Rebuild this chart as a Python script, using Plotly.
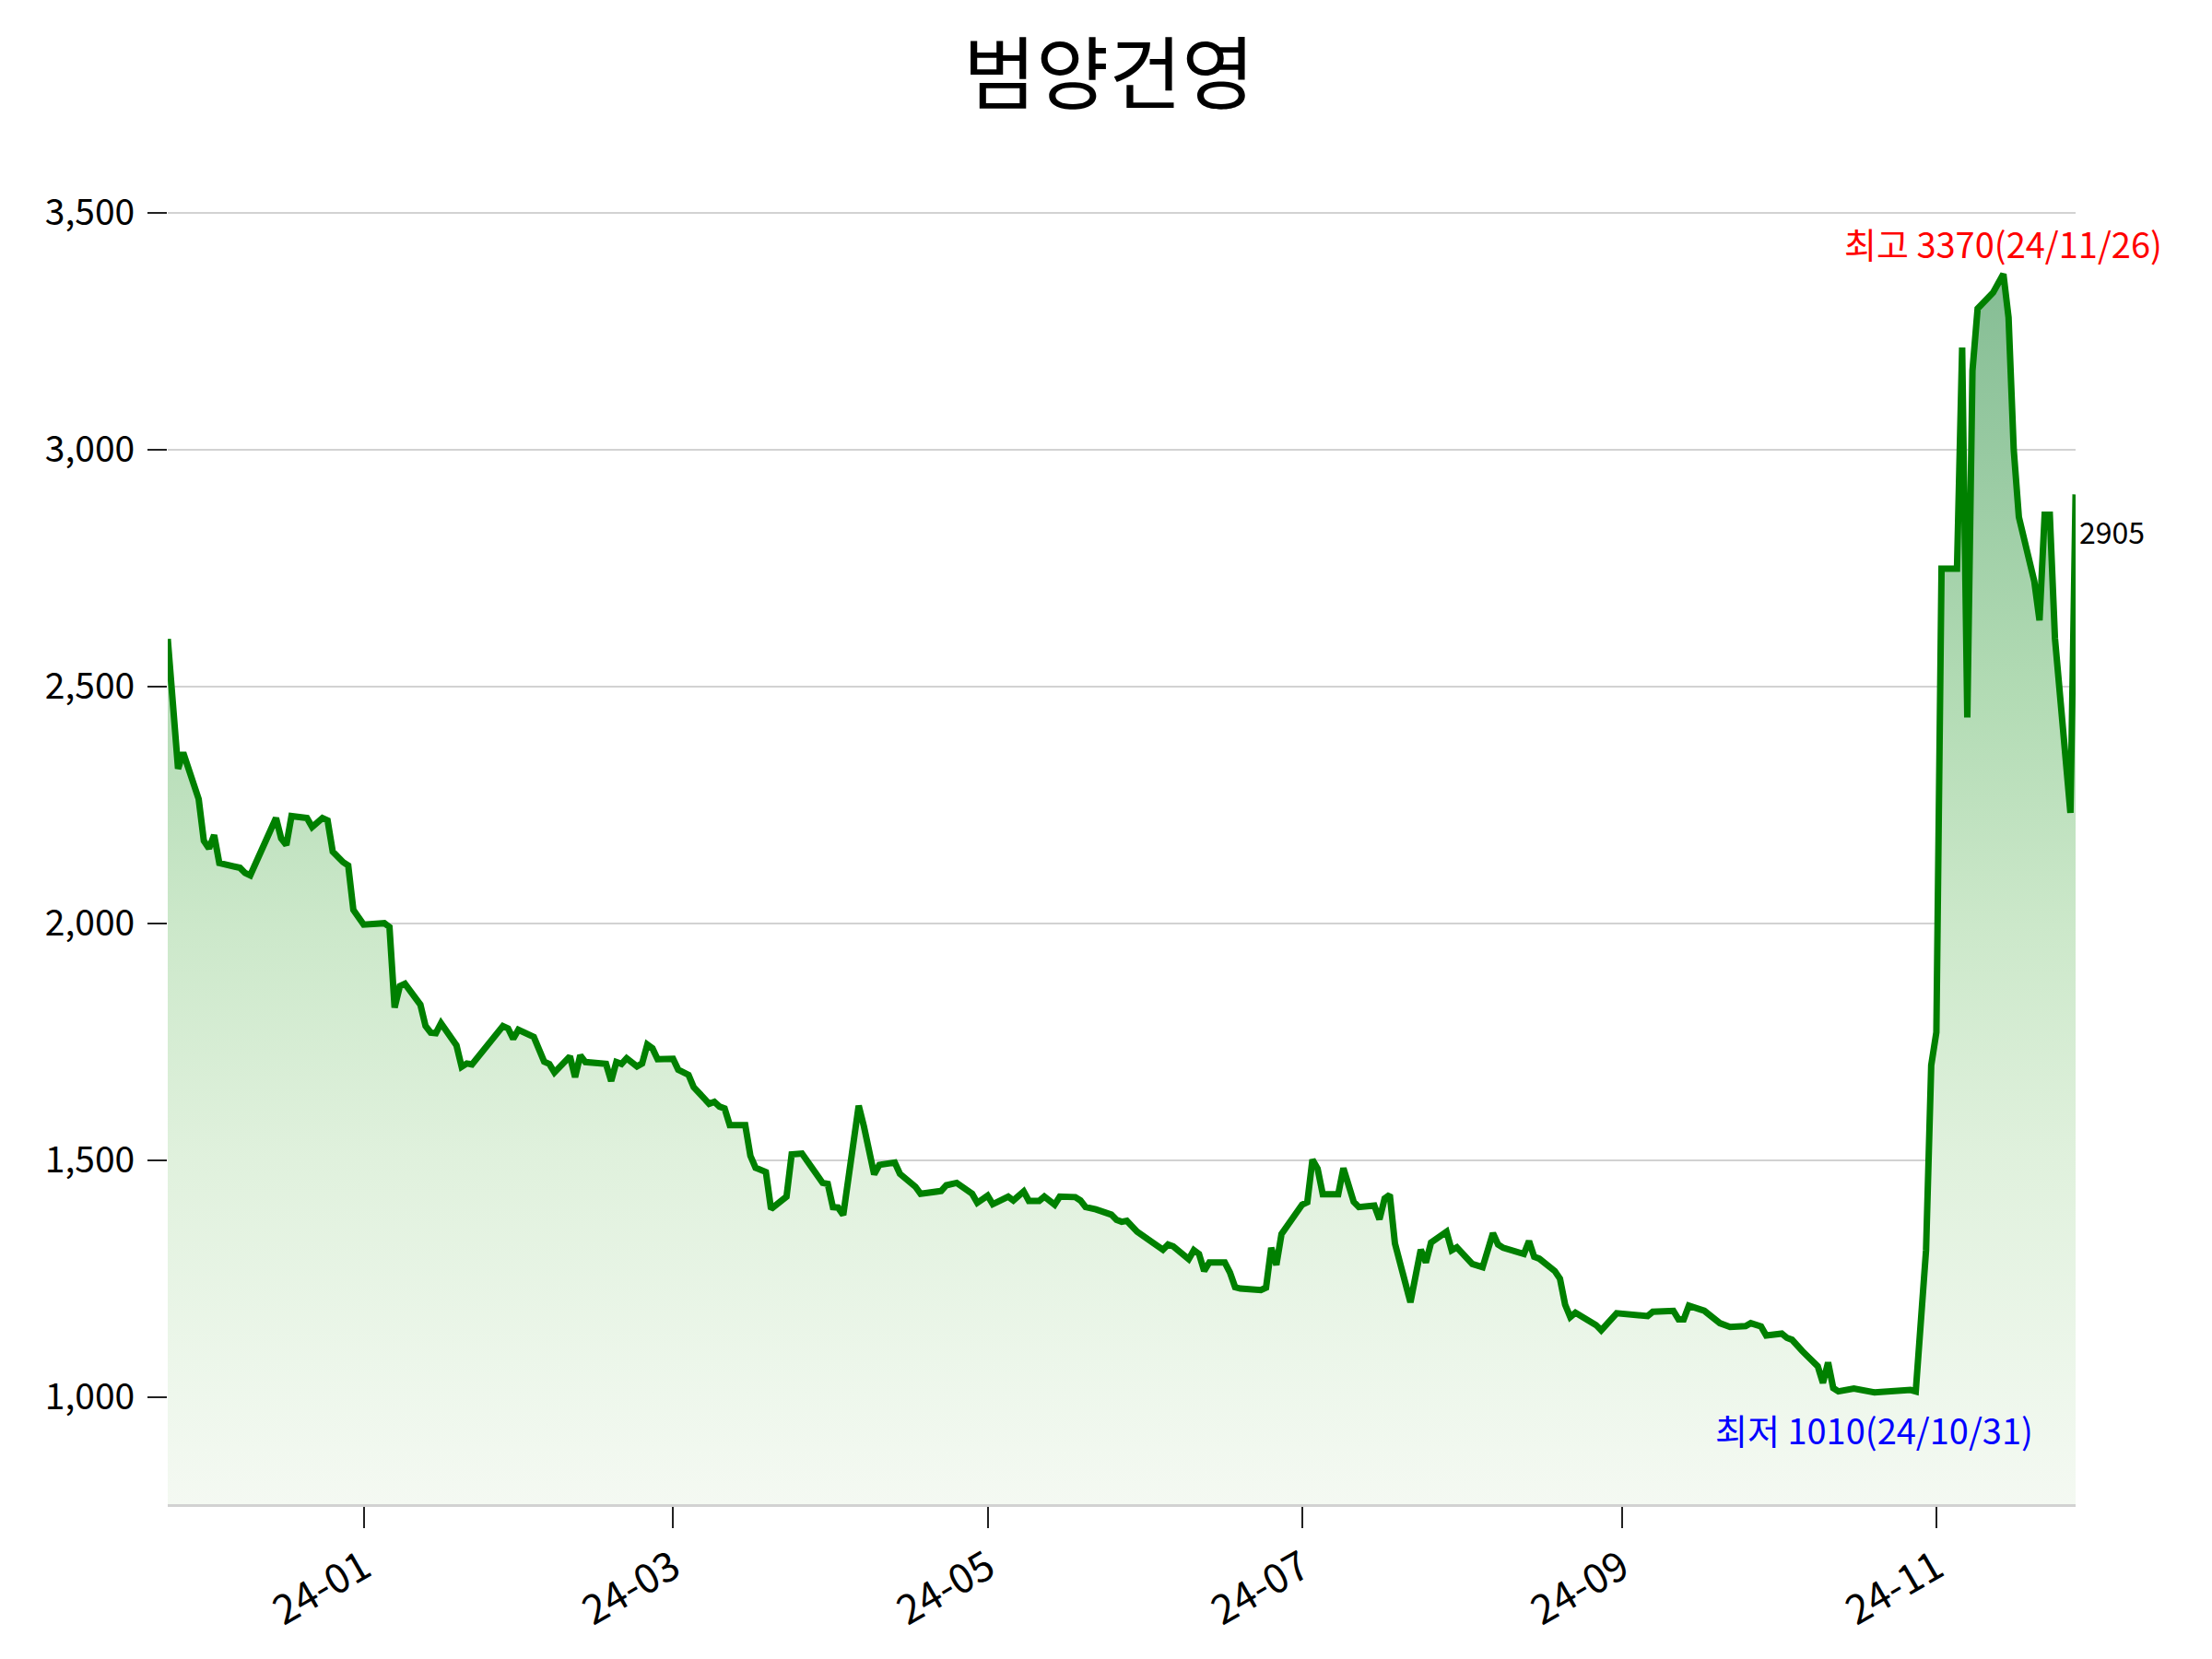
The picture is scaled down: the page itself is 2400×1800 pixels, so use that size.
import plotly.graph_objects as go

title = "범양건영"

dates = [
    "2023-11-24", "2023-11-26", "2023-11-27", "2023-11-30", "2023-12-01", "2023-12-02",
    "2023-12-03", "2023-12-04", "2023-12-08", "2023-12-09", "2023-12-10", "2023-12-15",
    "2023-12-16", "2023-12-17", "2023-12-18", "2023-12-21", "2023-12-22", "2023-12-24",
    "2023-12-25", "2023-12-26", "2023-12-28", "2023-12-29", "2023-12-30", "2024-01-01",
    "2024-01-05", "2024-01-06", "2024-01-07", "2024-01-08", "2024-01-09", "2024-01-12",
    "2024-01-13", "2024-01-14", "2024-01-15", "2024-01-16", "2024-01-19", "2024-01-20",
    "2024-01-21", "2024-01-22", "2024-01-28", "2024-01-29", "2024-01-30", "2024-01-31",
    "2024-02-03", "2024-02-05", "2024-02-06", "2024-02-07", "2024-02-10", "2024-02-11",
    "2024-02-12", "2024-02-13", "2024-02-17", "2024-02-18", "2024-02-19", "2024-02-20",
    "2024-02-21", "2024-02-23", "2024-02-24", "2024-02-25", "2024-02-26", "2024-02-27",
    "2024-03-01", "2024-03-02", "2024-03-04", "2024-03-05", "2024-03-08", "2024-03-09",
    "2024-03-10", "2024-03-11", "2024-03-12", "2024-03-15", "2024-03-16", "2024-03-17",
    "2024-03-19", "2024-03-20", "2024-03-23", "2024-03-24", "2024-03-26", "2024-03-30",
    "2024-03-31", "2024-04-01", "2024-04-02", "2024-04-03", "2024-04-06", "2024-04-07",
    "2024-04-09", "2024-04-10", "2024-04-13", "2024-04-14", "2024-04-17", "2024-04-18",
    "2024-04-22", "2024-04-23", "2024-04-25", "2024-04-28", "2024-04-29", "2024-05-01",
    "2024-05-02", "2024-05-05", "2024-05-06", "2024-05-07", "2024-05-08", "2024-05-09",
    "2024-05-11", "2024-05-12", "2024-05-14", "2024-05-15", "2024-05-18", "2024-05-19",
    "2024-05-20", "2024-05-22", "2024-05-25", "2024-05-26", "2024-05-27", "2024-05-28",
    "2024-05-30", "2024-06-02", "2024-06-04", "2024-06-05", "2024-06-06", "2024-06-09",
    "2024-06-10", "2024-06-11", "2024-06-12", "2024-06-13", "2024-06-16", "2024-06-17",
    "2024-06-18", "2024-06-19", "2024-06-23", "2024-06-24", "2024-06-25", "2024-06-26",
    "2024-06-27", "2024-07-01", "2024-07-02", "2024-07-03", "2024-07-04", "2024-07-05",
    "2024-07-08", "2024-07-09", "2024-07-11", "2024-07-12", "2024-07-15", "2024-07-16",
    "2024-07-17", "2024-07-18", "2024-07-19", "2024-07-22", "2024-07-24", "2024-07-25",
    "2024-07-26", "2024-07-29", "2024-07-30", "2024-07-31", "2024-08-03", "2024-08-05",
    "2024-08-07", "2024-08-08", "2024-08-09", "2024-08-13", "2024-08-14", "2024-08-15",
    "2024-08-16", "2024-08-19", "2024-08-20", "2024-08-21", "2024-08-22", "2024-08-23",
    "2024-08-26", "2024-08-27", "2024-08-28", "2024-08-31", "2024-09-06", "2024-09-07",
    "2024-09-11", "2024-09-12", "2024-09-13", "2024-09-14", "2024-09-17", "2024-09-20",
    "2024-09-22", "2024-09-25", "2024-09-26", "2024-09-28", "2024-09-29", "2024-10-02",
    "2024-10-03", "2024-10-04", "2024-10-06", "2024-10-09", "2024-10-10", "2024-10-11",
    "2024-10-12", "2024-10-13", "2024-10-16", "2024-10-18", "2024-10-20", "2024-10-27",
    "2024-10-28", "2024-10-30", "2024-10-31", "2024-11-01", "2024-11-02", "2024-11-05",
    "2024-11-06", "2024-11-07", "2024-11-08", "2024-11-09", "2024-11-12", "2024-11-14",
    "2024-11-15", "2024-11-16", "2024-11-17", "2024-11-20", "2024-11-21", "2024-11-22",
    "2024-11-23", "2024-11-24", "2024-11-27", "2024-11-28",
]

prices = [
    2600, 2326, 2360, 2262, 2174, 2158,
    2186, 2127, 2117, 2106, 2101, 2222,
    2179, 2165, 2226, 2222, 2203, 2222,
    2217, 2151, 2129, 2122, 2028, 1997,
    2000, 1992, 1822, 1867, 1872, 1828,
    1783, 1769, 1768, 1789, 1742, 1697,
    1704, 1702, 1783, 1778, 1756, 1775,
    1760, 1708, 1703, 1685, 1719, 1675,
    1721, 1707, 1703, 1667, 1707, 1703,
    1715, 1698, 1704, 1744, 1736, 1713,
    1714, 1691, 1680, 1654, 1619, 1623,
    1613, 1609, 1574, 1574, 1509, 1484,
    1475, 1397, 1423, 1512, 1514, 1452,
    1450, 1401, 1400, 1384, 1615, 1572,
    1470, 1490, 1495, 1471, 1444, 1429,
    1435, 1447, 1452, 1429, 1410, 1425,
    1407, 1423, 1415, 1427, 1434, 1414,
    1414, 1423, 1406, 1423, 1422, 1415,
    1401, 1396, 1385, 1374, 1370, 1372,
    1349, 1326, 1311, 1322, 1318, 1291,
    1310, 1302, 1266, 1284, 1284, 1263,
    1232, 1229, 1226, 1231, 1315, 1279,
    1344, 1406, 1411, 1501, 1482, 1428,
    1428, 1483, 1412, 1401, 1404, 1375,
    1419, 1427, 1324, 1200, 1311, 1284,
    1326, 1349, 1310, 1316, 1281, 1274,
    1346, 1322, 1315, 1302, 1329, 1296,
    1292, 1266, 1250, 1195, 1169, 1178,
    1159, 1152, 1141, 1177, 1171, 1180,
    1182, 1164, 1164, 1193, 1182, 1156,
    1148, 1150, 1156, 1149, 1130, 1134,
    1125, 1121, 1097, 1065, 1030, 1073,
    1019, 1012, 1018, 1013, 1010, 1015,
    1012, 1310, 1700, 1770, 2748, 2748,
    3215, 2434, 3166, 3297, 3331, 3370,
    3278, 3000, 2857, 2721, 2639, 2862,
    2862, 2601, 2233, 2905,
]

max_label = "최고 3370(24/11/26)"
min_label = "최저 1010(24/10/31)"

font_family = "Noto Sans CJK KR"

i_max = max(range(len(prices)), key=lambda i: prices[i])
i_min = min(range(len(prices)), key=lambda i: prices[i])

span = max(prices) - min(prices)
y_low = min(prices) - 0.1 * span
y_high = max(prices) + 0.1 * span

fig = go.Figure()
fig.add_trace(go.Scatter(
    x=dates, y=prices, mode="lines",
    line=dict(color="#008000", width=7),
    fill="tozeroy",
    fillgradient=dict(
        type="vertical",
        start=y_low, stop=max(prices),
        colorscale=[
            [0.0, "rgb(244,249,242)"],
            [0.09, "rgb(238,247,236)"],
            [0.28, "rgb(224,241,221)"],
            [0.47, "rgb(204,232,202)"],
            [0.66, "rgb(178,219,180)"],
            [0.85, "rgb(152,202,162)"],
            [1.0, "rgb(133,189,148)"],
        ],
    ),
    showlegend=False, hoverinfo="x+y",
))

fig.add_annotation(x=dates[i_max], y=prices[i_max], text=max_label, showarrow=False,
                   xanchor="center", yanchor="bottom", yshift=4,
                   font=dict(family=font_family, size=38, color="red"))
fig.add_annotation(x=dates[i_min], y=prices[i_min], text=min_label, showarrow=False,
                   xanchor="center", yanchor="top", yshift=-10,
                   font=dict(family=font_family, size=38, color="blue"))
fig.add_annotation(x=dates[-1], y=prices[-1], text=str(prices[-1]), showarrow=False,
                   xanchor="left", yanchor="middle", xshift=2, yshift=-40,
                   font=dict(family=font_family, size=32, color="black"))

fig.update_layout(
    width=2400, height=1800,
    paper_bgcolor="white", plot_bgcolor="white",
    margin=dict(l=174, r=156, t=168, b=176, autoexpand=False),
    font=dict(family=font_family, size=38, color="black"),
    title=dict(text=title, x=0.498, xanchor="center", y=0.959, yanchor="middle",
               font=dict(family=font_family, size=86, color="black")),
    showlegend=False,
)

fig.update_xaxes(
    type="date", range=[dates[0], dates[-1]],
    tick0="2024-01-01", dtick="M2", tickformat="%y-%m",
    tickangle=-30, ticks="outside", ticklen=23, tickwidth=1.5, tickcolor="#222",
    showgrid=False, showline=True, linecolor="rgb(210,210,210)", linewidth=3,
    zeroline=False, tickfont=dict(family=font_family, size=44, color="black"),
)
fig.update_yaxes(
    range=[y_low, y_high], tick0=1000, dtick=500, tickformat=",",
    ticks="outside", ticklen=21, tickwidth=1.5, tickcolor="#222",
    showgrid=True, gridcolor="rgb(210,210,210)", gridwidth=2,
    showline=False, zeroline=False, ticklabelstandoff=6,
    tickfont=dict(family=font_family, size=39, color="black"),
)

fig.write_html("out.html")
